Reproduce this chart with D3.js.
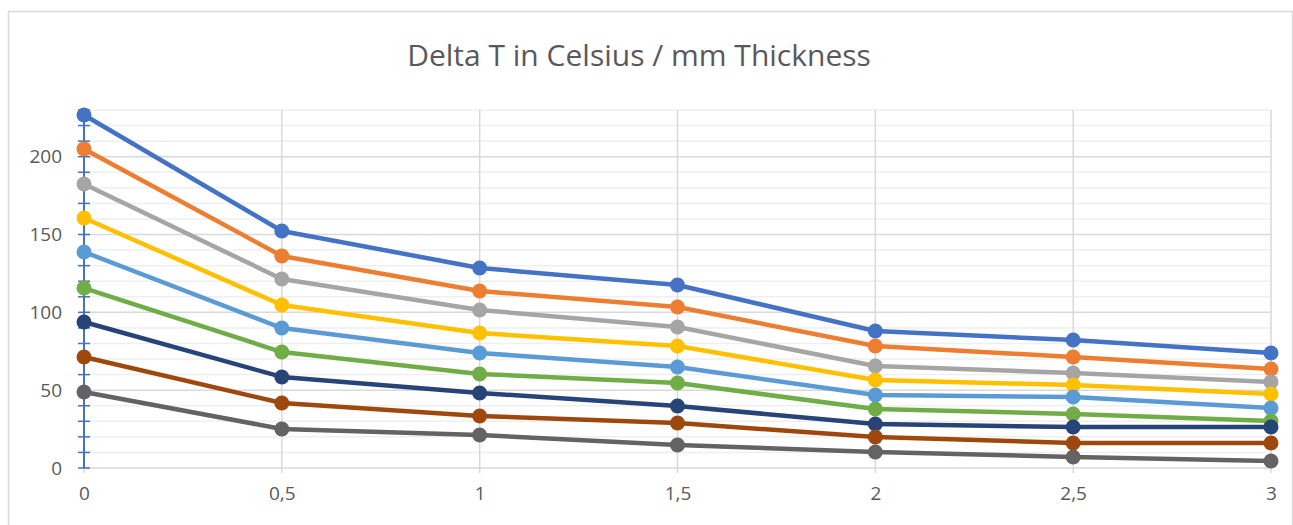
<!DOCTYPE html>
<html>
<head>
<meta charset="utf-8">
<script src="https://cdn.jsdelivr.net/npm/d3@7"></script>
<style>
  body { margin: 0; background: #fff; }
  text { font-family: "Open Sans", "Liberation Sans", sans-serif; fill: #595959; }
</style>
</head>
<body>
<div id="chart"></div>
<script>
// thickness in mm
var thickness = [0, 0.5, 1, 1.5, 2, 2.5, 3];
var xTickLabels = ["0", "0,5", "1", "1,5", "2", "2,5", "3"];
var yTicks = [0, 50, 100, 150, 200];

// delta T series, top to bottom
var s1 = [226.8, 152.3, 128.5, 117.6, 88.0, 82.2, 73.9];
var s2 = [205.0, 136.2, 113.7, 103.4, 78.4, 71.3, 63.6];
var s3 = [182.5, 121.4, 101.5, 90.6, 65.5, 61.0, 55.3];
var s4 = [160.6, 104.7, 86.7, 78.4, 56.5, 53.3, 47.5];
var s5 = [138.8, 89.9, 73.9, 64.9, 46.9, 45.6, 38.5];
var s6 = [115.6, 74.5, 60.4, 54.6, 37.9, 34.7, 30.2];
var s7 = [93.8, 58.5, 48.2, 39.8, 28.3, 26.3, 26.3];
var s8 = [71.3, 41.8, 33.4, 28.9, 19.9, 16.1, 16.1];
var s9 = [48.8, 25.1, 21.2, 14.8, 10.3, 7.1, 4.5];

var seriesList = [s1, s2, s3, s4, s5, s6, s7, s8, s9];
var colors = ["#4472C4", "#ED7D31", "#A5A5A5", "#FFC000", "#5B9BD5",
              "#70AD47", "#264478", "#9E480E", "#636363"];

var svgWidth = 1293;
var svgHeight = 525;
var margin = { top: 110, right: 22, bottom: 57, left: 84 };
var width = svgWidth - margin.left - margin.right;
var height = svgHeight - margin.top - margin.bottom;

var svg = d3.select("#chart")
  .append("svg")
  .attr("width", svgWidth)
  .attr("height", svgHeight);

// chart border
svg.append("rect")
  .attr("x", 8.5).attr("y", 11.5)
  .attr("width", svgWidth - 9).attr("height", svgHeight)
  .attr("fill", "none")
  .attr("stroke", "#d9d9d9")
  .attr("stroke-width", 1.5);

svg.append("text")
  .attr("x", 639)
  .attr("y", 66)
  .attr("text-anchor", "middle")
  .style("font-size", "30px")
  .text("Delta T in Celsius / mm Thickness");

var chartGroup = svg.append("g")
  .attr("transform", `translate(${margin.left}, ${margin.top})`);

var xScale = d3.scaleLinear().domain([0, 3]).range([0, width]);
var yScale = d3.scaleLinear().domain([0, 230]).range([height, 0]);

// minor gridlines
chartGroup.append("g")
  .selectAll("line")
  .data(d3.range(10, 231, 10).filter(d => d % 50 !== 0))
  .enter()
  .append("line")
  .attr("x1", 0).attr("x2", width)
  .attr("y1", d => yScale(d)).attr("y2", d => yScale(d))
  .attr("stroke", "#efefef")
  .attr("stroke-width", 1.5);

// major gridlines
chartGroup.append("g")
  .selectAll("line")
  .data(yTicks)
  .enter()
  .append("line")
  .attr("x1", 0).attr("x2", width)
  .attr("y1", d => yScale(d)).attr("y2", d => yScale(d))
  .attr("stroke", "#d9d9d9")
  .attr("stroke-width", 1.5);

// vertical gridlines
chartGroup.append("g")
  .selectAll("line")
  .data(thickness)
  .enter()
  .append("line")
  .attr("x1", d => xScale(d)).attr("x2", d => xScale(d))
  .attr("y1", 0).attr("y2", height + 5)
  .attr("stroke", "#d9d9d9")
  .attr("stroke-width", 1.5);

// x axis labels
var bottomAxis = d3.axisBottom(xScale)
  .tickValues(thickness)
  .tickFormat((d, i) => xTickLabels[i])
  .tickSize(0)
  .tickPadding(19);

var xAxisG = chartGroup.append("g")
  .attr("transform", `translate(0, ${height})`)
  .call(bottomAxis);
xAxisG.select(".domain").remove();
xAxisG.selectAll("text").style("font-size", "19px").attr("fill", "#595959");

// y axis: blue line with crossing ticks
var leftAxis = d3.axisLeft(yScale)
  .tickValues(yTicks)
  .tickSize(0)
  .tickPadding(22);

var yAxisG = chartGroup.append("g").call(leftAxis);
yAxisG.select(".domain").remove();
yAxisG.selectAll("text").style("font-size", "19px").attr("fill", "#595959");

chartGroup.append("g")
  .selectAll("line")
  .data(d3.range(0, 231, 10))
  .enter()
  .append("line")
  .attr("x1", -6).attr("x2", 6)
  .attr("y1", d => yScale(d)).attr("y2", d => yScale(d))
  .attr("stroke", "#4472C4")
  .attr("stroke-width", 1.5);

chartGroup.append("line")
  .attr("x1", 0).attr("x2", 0)
  .attr("y1", 0).attr("y2", height)
  .attr("stroke", "#4472C4")
  .attr("stroke-width", 2);

// lines and markers
var line = d3.line()
  .x((d, i) => xScale(thickness[i]))
  .y(d => yScale(d));

seriesList.forEach(function(values, k) {
  chartGroup.append("path")
    .datum(values)
    .attr("d", line)
    .attr("fill", "none")
    .attr("stroke", colors[k])
    .attr("stroke-width", 4.5)
    .attr("stroke-linejoin", "round");

  chartGroup.selectAll(".pt" + k)
    .data(values)
    .enter()
    .append("circle")
    .attr("cx", (d, i) => xScale(thickness[i]))
    .attr("cy", d => yScale(d))
    .attr("r", 7.5)
    .attr("fill", colors[k]);
});
</script>
</body>
</html>
